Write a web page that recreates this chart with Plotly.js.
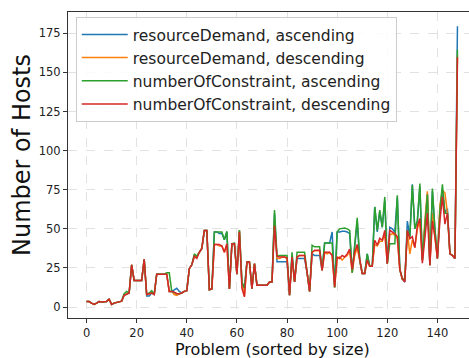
<!DOCTYPE html>
<html>
<head>
<meta charset="utf-8">
<script src="https://cdn.plot.ly/plotly-3.0.1.min.js"></script>
<style>
html,body{margin:0;padding:0;overflow:hidden;background:#fff;width:469px;height:358px;}
#chart{width:480px;height:358px;}
</style>
</head>
<body>
<div id="chart"></div>
<script>
const seriesNames = ["resourceDemand, ascending","resourceDemand, descending","numberOfConstraint, ascending","numberOfConstraint, descending"];
const seriesColors = ["#1f77b4","#ff7f0e","#2ca02c","#d62728"];

const rdAsc = [
3.5,3.5,2.5,1.7,2.5,3.5,3.3,3.3,3.6,5,1.7,2.5,2.8,3.5,3.8,
7.5,8.5,9,27,17,17,17,17,30.5,7,7,9,8,
21,21,21,21,21,10,10,11,12,10,9,10,10.5,
24.5,27,32.5,32.5,35,37.5,49,49,11,11.5,
48,48,47,47,43,48,11.5,40.5,40.5,21,
49,16,12,28.8,28.8,11.7,27.7,14,14,14,14,14,16,16,
60,29,29,29,29,29,7.5,33,16,31,31,31,31,22,10,
34,33,33,33,23.5,41,41,41,48,12.5,
48,48,48.5,48.5,48,47,22,40,55,30,
21.5,21.5,34,26,26,64,48,61,51,68,
27.7,51,50,48,70,24,18,16,55,45,
78.5,50,55,77,30,52,72,26.7,74,50,
31,60,75,60,63,34,33,31,179.5];

const rdDesc = [
3.5,3.5,2.5,1.7,2.5,3.5,3.3,3.3,3.6,5,1.7,2.5,2.8,3.5,3.8,
7.5,8.5,9,27,17,17,17,17,30.5,8,8.5,9,8,
21,21,21,21,21,10,10,8,7.5,8.5,9,10,10.5,
24.5,27,32.5,32.5,35,37.5,49,49,11,11.5,
40,40,39,39,35,40,11.5,40.5,40.5,21,
49,16,7,28.8,28.8,11.7,27.7,14,14,14,14,14,16,16,
55,31,31,32,32,31,7.5,31,16,32,33,33,33,22,10,
35,36,36,36,23.5,35,34,35,33,12.5,
31,32,30,32,33,36,22,33,38,30,
21.5,21.5,30,26,26,40,39,42,42,47,
27.7,46,47,46,44,24,18,18,48,34,
43,38,50,55,30,55,74,26.7,60,45,
31,65,74.7,73,60,34,33,31,161];

const nocAsc = [
3.5,3.5,2.5,1.7,2.5,3.5,3.3,3.3,3.6,5,1.7,2.5,2.8,3.5,3.8,
8.5,10,9,27,17,17,17,17,30.5,8,9,10.5,8,
21,21,21,21,22,22,10,9.5,8.5,8.5,9,10,10.5,
24.5,27,34,32.5,35,37.5,49,49,11,11.5,
48,48,48,48,43,48.5,11.5,40.5,41,21,
49,16,12,28.8,28.8,11.7,27.7,14,14,14,14,14,16,16,
62,32.5,33,33,33,33,7.5,35,16,35,35,35,35,22,10,
39.5,38.5,38.5,38.5,23.5,41,41,41,41,12.5,
48,50,50.5,50.5,50,49,22,40,57,30,
21.5,21.5,34,26,26,64,49,62,51,70.4,
27.7,40.5,40.5,40.5,71.5,24,18,18,49,45,
78,50,55,79,30,52,72,26.7,75.7,50,
31,62,78.5,60,60,34,33,31,164.5];

const nocDesc = [
3.5,3.5,2.5,1.7,2.5,3.5,3.3,3.3,3.6,5,1.7,2.5,2.8,3.5,3.8,
7.5,8.5,9,27,17,17,17,17,30.5,8,8.5,9,8,
21,21,21,21,21,10,10,9.5,8.5,8.5,9,10,10.5,
24.5,27,32.5,31,35,37.5,49,49,11,11.5,
40,40,40,39,35,40.5,11.5,40.5,40.5,21,
48,12,6.5,28.8,28.8,11.7,27.7,14,14,14,14,14,16,16,
52,32.5,32,32,32,31.5,7.5,32,16,32,33,33,33,22,10,
35,36.3,36.3,36.3,23.5,35,35,35,33,12.8,
32,31,33,32,34,37,24,35,40,30,
21.5,21.5,30,26,26,42.7,39.5,44,42.7,49,
27.7,49,48,47,45,24,18,16,49,43.7,
45,38,52,56.6,28,45,60,26.7,55,45,
31,55,70.4,53,60,34,33,31,159.6];

const xTicks = [0,20,40,60,80,100,120,140];
const yTicks = [0,25,50,75,100,125,150,175];
const xTitle = 'Problem (sorted by size)';
const yTitle = 'Number of Hosts';

const allSeries = [rdAsc, rdDesc, nocAsc, nocDesc];
const traces = allSeries.map((vals, k) => ({
  x: vals.map((_, i) => i),
  y: vals,
  type: 'scatter',
  mode: 'lines',
  name: seriesNames[k],
  line: {color: seriesColors[k], width: 1.5}
}));

const font = "DejaVu Sans, sans-serif";
const layout = {
  width: 480, height: 358,
  margin: {l: 68, r: 4, t: 12, b: 40},
  paper_bgcolor: '#fff', plot_bgcolor: '#fff',
  font: {family: font, color: '#222'},
  showlegend: true,
  legend: {
    x: 0.019, y: 0.984, xanchor: 'left', yanchor: 'top',
    bgcolor: 'rgba(255,255,255,0.85)', bordercolor: '#cccccc', borderwidth: 1,
    itemwidth: 46,
    font: {family: font, size: 15.5, color: '#222'}
  },
  xaxis: {
    range: [-7.4, 155.4],
    tickvals: xTicks, ticktext: xTicks.map(String),
    tickfont: {size: 11.5, family: font, color: '#222'},
    ticks: 'outside', ticklen: 4, tickcolor: '#333',
    showline: true, linecolor: '#333', linewidth: 1, mirror: true,
    showgrid: true, gridcolor: '#e2e2e2', griddash: 'dash', gridwidth: 1,
    zeroline: false
  },
  yaxis: {
    range: [-7, 188.6],
    tickvals: yTicks, ticktext: yTicks.map(String),
    tickfont: {size: 11.5, family: font, color: '#222'},
    ticks: 'outside', ticklen: 4, tickcolor: '#333',
    showline: true, linecolor: '#333', linewidth: 1, mirror: true,
    showgrid: true, gridcolor: '#e2e2e2', griddash: 'dash', gridwidth: 1,
    zeroline: false
  },
  annotations: [
    {text: xTitle, xref: 'paper', yref: 'paper', x: 0.5, y: -0.104,
     xanchor: 'center', yanchor: 'middle', showarrow: false,
     font: {size: 16, family: font, color: '#111'}},
    {text: yTitle, xref: 'paper', yref: 'paper', x: -0.1127, y: 0.533,
     xanchor: 'center', yanchor: 'middle', showarrow: false, textangle: -90,
     font: {size: 24, family: font, color: '#111'}}
  ]
};

Plotly.newPlot('chart', traces, layout, {displayModeBar: false, staticPlot: true});
</script>
</body>
</html>
